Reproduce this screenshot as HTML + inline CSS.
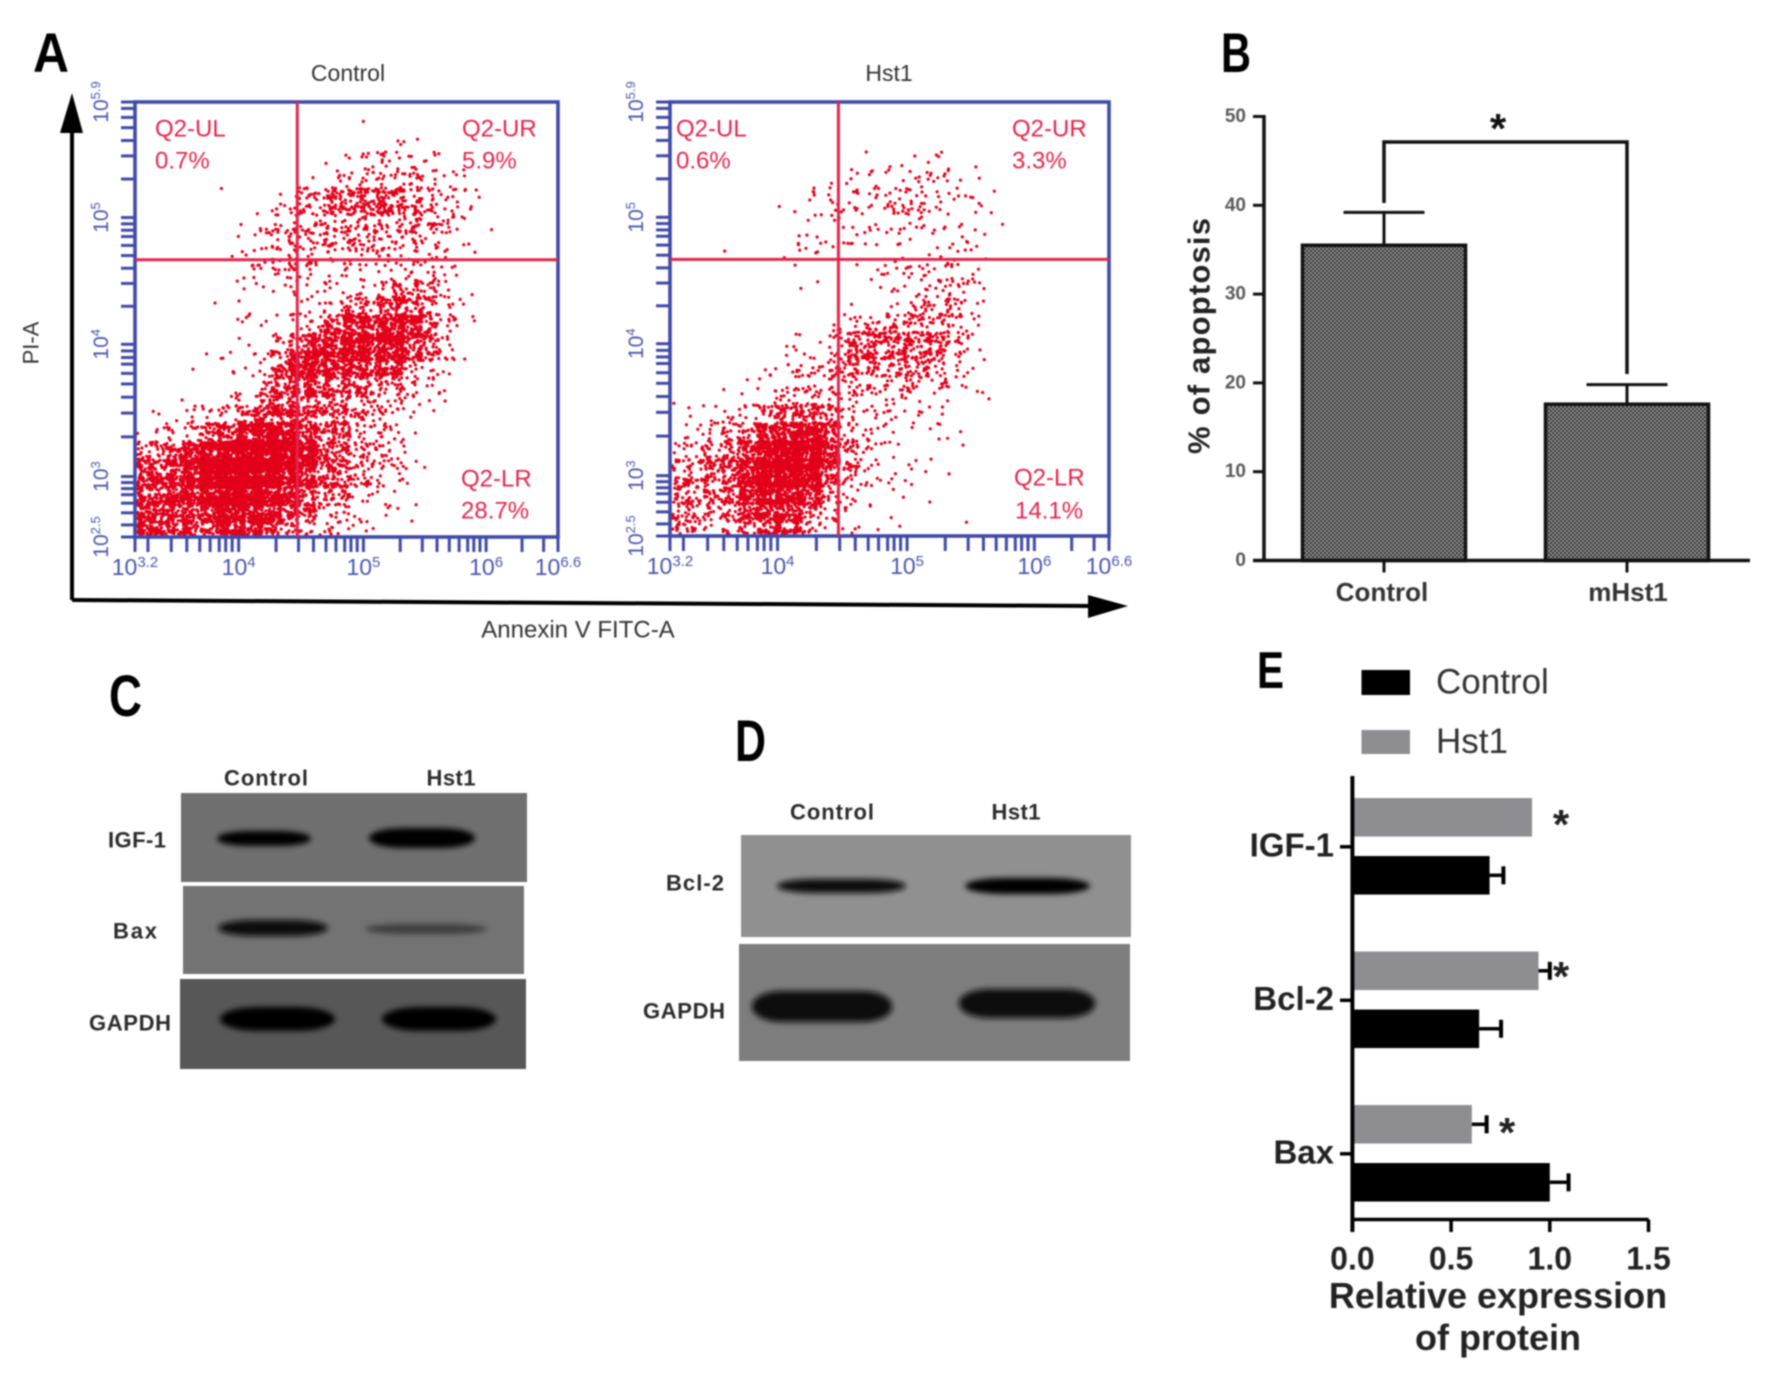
<!DOCTYPE html>
<html lang="en">
<head>
<meta charset="utf-8">
<title>Flow cytometry, apoptosis and western blot figure</title>
<style>
html,body{margin:0;padding:0;background:#fff;}
#figure{display:block;width:1772px;height:1388px;filter:blur(0.7px);font-family:"Liberation Sans",Arial,sans-serif;}
.flow-red{font-size:24px;fill:#e3244a;}
.wb{font-size:22px;font-weight:bold;fill:#2b2b2b;text-anchor:middle;dominant-baseline:central;}
.letter{font-weight:bold;fill:#000;}
</style>
</head>
<body>
<svg id="figure" xmlns="http://www.w3.org/2000/svg" width="1772" height="1388" viewBox="0 0 1772 1388">
<defs>
<pattern id="hatch" width="4" height="4" patternUnits="userSpaceOnUse">
<rect width="4" height="4" fill="#9a9a9a"/>
<rect width="2" height="2" fill="#2e2e2e"/>
<rect x="2" y="2" width="2" height="2" fill="#2e2e2e"/>
</pattern>
<filter id="band-blur" x="-20%" y="-60%" width="140%" height="220%"><feGaussianBlur stdDeviation="3"/></filter>
</defs>
<rect width="1772" height="1388" fill="#fff"/>

<!-- Panel letters -->
<text class="letter" x="33" y="72" font-size="56" textLength="36" lengthAdjust="spacingAndGlyphs">A</text>
<text class="letter" x="1221" y="72" font-size="56" textLength="30" lengthAdjust="spacingAndGlyphs">B</text>
<text class="letter" x="109" y="716" font-size="58" textLength="33" lengthAdjust="spacingAndGlyphs">C</text>
<text class="letter" x="735" y="761" font-size="58" textLength="31" lengthAdjust="spacingAndGlyphs">D</text>
<text class="letter" x="1257" y="688" font-size="52" textLength="27" lengthAdjust="spacingAndGlyphs">E</text>

<!-- Panel A shared axes -->
<g>
<line x1="72" y1="600" x2="72" y2="128" stroke="#000" stroke-width="4"/>
<polygon points="72,93 60,133 83,133" fill="#000"/>
<line x1="72" y1="600" x2="1092" y2="606" stroke="#000" stroke-width="4"/>
<polygon points="1128,606 1088,595 1088,618" fill="#000"/>
<text transform="translate(31,343) rotate(-90)" font-size="22" fill="#333" text-anchor="middle" dominant-baseline="central">PI-A</text>
<text x="578" y="630" font-size="24" fill="#333" text-anchor="middle" dominant-baseline="central">Annexin V FITC-A</text>
</g>
<g id="flow-control"></g>
<g id="flow-hst1"></g>

<!-- Panel B -->
<g id="chart-b"></g>

<!-- Panel C -->
<g>
<text class="wb" x="266" y="778" textLength="84">Control</text>
<text class="wb" x="451" y="778" textLength="49">Hst1</text>
<rect x="181" y="793" width="346" height="89" fill="#6f6f6f"/>
<rect x="183" y="886" width="341" height="88" fill="#737373"/>
<rect x="180" y="979" width="346" height="90" fill="#575757"/>
<g filter="url(#band-blur)">
<rect x="217" y="831" width="94" height="15" rx="30" ry="7.5" fill="#000"/>
<rect x="369" y="828" width="106" height="20" rx="34" ry="10" fill="#000"/>
<rect x="218" y="920" width="110" height="16" rx="36" ry="8" fill="#0c0c0c"/>
<rect x="365" y="924" width="122" height="10" rx="40" ry="5" fill="#3c3c3c"/>
<rect x="220" y="1007" width="115" height="24" rx="38" ry="12" fill="#000"/>
<rect x="382" y="1007" width="114" height="24" rx="38" ry="12" fill="#000"/>
</g>
<text class="wb" x="137" y="840" textLength="58">IGF-1</text>
<text class="wb" x="135" y="931" textLength="44">Bax</text>
<text class="wb" x="130" y="1023" textLength="82">GAPDH</text>
</g>

<!-- Panel D -->
<g>
<text class="wb" x="832" y="812" textLength="84">Control</text>
<text class="wb" x="1016" y="812" textLength="49">Hst1</text>
<rect x="741" y="835" width="390" height="102" fill="#909090"/>
<rect x="739" y="944" width="391" height="117" fill="#7d7d7d"/>
<g filter="url(#band-blur)">
<rect x="777" y="879" width="129" height="14" rx="40" ry="7" fill="#0e0e0e"/>
<rect x="965" y="878" width="125" height="16" rx="40" ry="8" fill="#050505"/>
<rect x="752" y="991" width="140" height="31" rx="30" ry="15" fill="#0a0a0a"/>
<rect x="959" y="989" width="136" height="29" rx="30" ry="14" fill="#0d0d0d"/>
</g>
<text class="wb" x="695" y="883" textLength="58">Bcl-2</text>
<text class="wb" x="684" y="1011" textLength="82">GAPDH</text>
</g>

<!-- Panel E -->
<g id="chart-e"></g>
</svg>

<script>
// ---------- Panel A data: event counts per grid cell, estimated by eye (24 rows top to bottom, 24 columns left to right) ----------
const controlDensity = [
[0,0,0,0,0,0,0,0,0,0,0,0,0,0,0,0,0,0,0,0,0,0,0,0],
[0,0,0,0,0,0,0,0,0,0,0,0,0,1,0,0,0,0,0,0,0,0,0,0],
[0,0,0,0,0,0,0,0,0,0,0,1,1,1,1,3,1,0,0,0,0,0,0,0],
[0,0,0,0,0,0,0,0,0,0,1,3,3,6,6,8,5,2,1,0,0,0,0,0],
[0,0,0,0,0,0,0,0,0,1,3,4,4,6,7,7,6,5,2,0,0,0,0,0],
[0,0,0,0,0,1,0,2,6,10,16,18,20,24,24,14,10,6,5,2,0,0,0,0],
[0,0,0,0,0,0,0,4,4,5,8,8,10,10,10,10,9,7,4,2,0,0,0,0],
[0,0,0,0,0,0,2,8,9,8,10,10,10,9,8,8,8,6,2,0,0,0,0,0],
[0,0,0,0,0,1,4,6,6,8,6,5,5,5,5,7,8,4,0,1,0,0,0,0],
[0,0,0,0,0,0,4,3,7,5,5,3,5,3,4,7,8,3,1,0,0,0,0,0],
[0,0,0,0,0,0,1,0,2,2,3,4,4,5,12,18,12,5,4,0,0,0,0,0],
[0,0,0,0,1,1,2,0,0,3,4,8,14,18,24,26,18,5,0,0,0,0,0,0],
[0,0,0,0,0,1,3,2,3,7,12,28,36,38,40,38,24,8,3,0,0,0,0,0],
[0,0,0,0,0,0,2,3,10,22,32,38,42,36,34,28,18,6,2,0,0,0,0,0],
[0,0,0,0,3,4,0,6,26,48,38,32,34,30,24,16,8,4,1,0,0,0,0,0],
[0,0,0,1,0,0,2,12,24,28,20,20,20,16,12,9,5,3,0,0,0,0,0,0],
[0,0,1,0,0,3,6,14,22,22,18,16,14,10,8,4,3,1,0,0,0,0,0,0],
[0,3,4,4,6,12,22,30,30,22,16,14,12,8,5,3,0,0,0,0,0,0,0,0],
[3,6,8,12,26,38,55,62,60,36,20,16,10,9,6,3,0,0,0,0,0,0,0,0],
[14,18,26,36,56,80,95,90,70,50,24,18,12,10,6,3,0,0,0,0,0,0,0,0],
[22,28,34,48,80,105,110,90,55,42,22,20,14,7,5,2,1,0,0,0,0,0,0,0],
[26,30,34,44,66,88,90,70,44,32,18,14,7,5,3,1,0,0,0,0,0,0,0,0],
[26,28,28,30,36,50,50,40,26,22,10,8,5,3,1,2,1,0,0,0,0,0,0,0],
[30,26,22,22,26,36,30,24,14,10,8,4,2,1,0,0,0,0,0,0,0,0,0,0]
];
const hst1Density = [
[0,0,0,0,0,0,0,0,0,0,0,0,0,0,0,0,0,0,0,0,0,0,0,0],
[0,0,0,0,0,0,0,0,0,0,0,0,0,0,0,0,0,0,0,0,0,0,0,0],
[0,0,0,0,0,0,0,0,0,0,0,0,0,0,0,0,0,0,0,0,0,0,0,0],
[0,0,0,0,0,0,0,0,0,0,1,2,3,4,4,2,2,0,0,0,0,0,0,0],
[0,0,0,0,0,0,0,0,0,2,4,3,3,4,5,3,2,1,0,0,0,0,0,0],
[0,0,0,0,0,0,0,4,4,5,6,6,10,8,3,3,3,1,0,0,0,0,0,0],
[0,0,0,0,0,0,1,2,3,2,1,2,5,5,4,2,1,1,0,0,0,0,0,0],
[0,0,0,0,0,0,1,3,3,3,3,3,3,2,1,2,4,0,0,0,0,0,0,0],
[0,0,1,0,0,0,2,3,1,2,0,1,1,0,2,4,4,0,0,0,0,0,0,0],
[0,0,0,0,0,0,1,1,0,1,0,4,6,5,5,7,3,0,0,0,0,0,0,0],
[0,0,0,0,0,0,1,0,0,0,0,3,3,3,7,8,4,0,0,0,0,0,0,0],
[0,0,0,0,0,0,0,0,0,1,0,0,5,8,8,12,4,0,0,0,0,0,0,0],
[0,0,0,0,0,0,1,0,0,6,10,12,14,12,12,10,4,0,0,0,0,0,0,0],
[0,0,0,0,0,0,3,2,0,10,28,16,24,18,20,6,3,0,0,0,0,0,0,0],
[0,0,0,0,0,1,3,5,6,14,16,12,10,12,10,6,5,0,0,0,0,0,0,0],
[0,0,0,0,1,3,5,8,6,8,7,7,10,9,8,4,2,0,0,0,0,0,0,0],
[1,0,1,0,3,7,10,12,10,8,6,5,5,4,2,2,0,1,0,0,0,0,0,0],
[1,2,3,6,10,15,20,24,18,8,4,5,3,3,2,3,0,0,0,0,0,0,0,0],
[2,6,9,12,18,36,50,55,40,14,6,3,3,0,2,1,0,0,0,0,0,0,0,0],
[4,8,12,18,36,60,70,70,52,14,5,3,2,0,0,1,0,0,0,0,0,0,0,0],
[10,12,16,24,46,72,75,55,30,10,5,3,2,3,2,0,0,0,0,0,0,0,0,0],
[16,14,16,22,40,55,55,38,16,8,4,3,1,2,1,0,0,0,0,0,0,0,0,0],
[10,14,10,14,26,40,40,22,8,4,1,1,1,0,0,1,0,0,0,0,0,0,0,0],
[12,8,5,8,18,24,26,10,3,3,1,1,1,0,0,0,0,0,0,0,0,0,0,0]
];
const controlGates = ["Q2-UL","0.7%","Q2-UR","5.9%","Q2-LR","28.7%"];
const hst1Gates = ["Q2-UL","0.6%","Q2-UR","3.3%","Q2-LR","14.1%"];
const logXMajors = ["3.2","4","5","6","6.6"];
const logYMajors = ["2.5","3","4","5","5.9"];
const logXMinors = [3.3,3.48,3.6,3.7,3.78,3.85,3.9,3.95,4.3,4.48,4.6,4.7,4.78,4.85,4.9,4.95,5.3,5.48,5.6,5.7,5.78,5.85,5.9,5.95,6.3,6.48];
const logYMinors = [2.6,2.7,2.78,2.85,2.9,2.95,3.3,3.48,3.6,3.7,3.78,3.85,3.9,3.95,4.3,4.48,4.6,4.7,4.78,4.85,4.9,4.95,5.3,5.48,5.6,5.7,5.78,5.85];
const gateLogX = [4.47, 4.47];
const gateLogY = [4.667, 4.667];

// ---------- Panel B data ----------
const apoptosisCategories = ["Control","mHst1"];
const apoptosisValues = [35.5,17.6];
const apoptosisErrors = [3.7,2.2];
const apoptosisTicks = [0,10,20,30,40,50];

// ---------- Panel E data ----------
const proteinCategories = ["IGF-1","Bcl-2","Bax"];
const hst1Expression = [0.91,0.943,0.605];
const hst1ExpressionError = [0,0.057,0.075];
const controlExpression = [0.695,0.642,1.0];
const controlExpressionError = [0.07,0.111,0.095];
const expressionTicks = [0,0.5,1.0,1.5];

const NS = 'http://www.w3.org/2000/svg';
function mk(parent, tag, attrs, text){
  const el = document.createElementNS(NS, tag);
  for (const k in attrs) el.setAttribute(k, attrs[k]);
  if (text !== undefined) el.textContent = text;
  parent.appendChild(el);
  return el;
}
function piecewise(knotsIn, knotsOut, v){
  for (let i = 0; i < knotsIn.length - 1; i++) {
    if (v <= knotsIn[i+1] || i === knotsIn.length - 2) {
      return knotsOut[i] + (v - knotsIn[i]) / (knotsIn[i+1] - knotsIn[i]) * (knotsOut[i+1] - knotsOut[i]);
    }
  }
}
// deterministic placement of a dot inside its grid cell (does not affect how many dots a cell has)
function cellOffset(a){
  const s = Math.sin(a * 12.9898) * 43758.5453;
  return s - Math.floor(s);
}
function reflectInto(v, lo, hi){
  if (v < lo) v = 2*lo - v;
  if (v > hi) v = 2*hi - v;
  return Math.min(hi, Math.max(lo, v));
}
// the grid was read on a compressed scale: dense cells overplot in the picture, so they draw extra dots
function dotsForCount(n){
  return Math.round(n * (1 + Math.min(1.4, n / 22)));
}
const BLUE = '#3f4aa8';
const LABEL_BLUE = '#4a55ad';

function drawFlow(root, o){
  const w = o.right - o.left, h = o.bottom - o.top;
  const xKnots = [3.2,4,5,6,6.6], yKnots = [2.5,3,4,5,5.9];
  const xFrac = [0,0.245,0.54,0.83,1], yFrac = [1,0.861,0.557,0.2656,0];
  const sx = v => o.left + piecewise(xKnots, xFrac, v) * w;
  const sy = v => o.top + piecewise(yKnots, yFrac, v) * h;

  // event dots drawn from the density grid
  const rows = o.density.length, cols = o.density[0].length;
  const dots = mk(root, 'g', {fill:'#e2001a'});
  
  
  o.density.forEach((row, r) => row.forEach((n, c) => {
    const total = dotsForCount(n);
    for (let i = 1; i <= total; i++) {
      const key = r*1000 + c*37 + i*3.17 + o.salt;
      const u = cellOffset(key), v = cellOffset(key + 51.3);
      const px = reflectInto(o.left + (c + 0.5 + (u - 0.5)*1.55) / cols * w, o.left + 2, o.right - 2);
      const py = reflectInto(o.top + (r + 0.5 + (v - 0.5)*1.55) / rows * h, o.top + 2, o.bottom - 2);
      const dot = mk(dots, 'circle', {cx:px.toFixed(1), cy:py.toFixed(1), r:1.6});
      
      
    }
  }));

  // frame
  const frame = mk(root, 'rect', {x:o.left, y:o.top, width:w, height:h, fill:'none', stroke:BLUE, 'stroke-width':3.6});
  
  

  // ticks
  logXMajors.concat(logXMinors).forEach(t => {
    const line = mk(root, 'line', {x1:sx(+t), x2:sx(+t), y1:o.bottom, y2:o.bottom+15, stroke:BLUE, 'stroke-width':3});
    
    
  });
  logYMajors.concat(logYMinors).forEach(t => {
    const line = mk(root, 'line', {x1:o.left-14, x2:o.left, y1:sy(+t), y2:sy(+t), stroke:BLUE, 'stroke-width':3});
    
    
  });
  logXMajors.forEach(t => {
    const lbl = mk(root, 'text', {x:sx(+t), y:o.bottom+38, 'text-anchor':'middle', 'font-size':23, fill:LABEL_BLUE}, '10');
    
    
    mk(lbl, 'tspan', {dy:-8, 'font-size':15}, t);
  });
  logYMajors.forEach(t => {
    const lbl = mk(root, 'text', {transform:'translate('+(o.left-27)+','+sy(+t)+') rotate(-90)', 'text-anchor':'middle', 'font-size':21, fill:LABEL_BLUE}, '10');
    
    
    mk(lbl, 'tspan', {dy:-8, 'font-size':13}, t);
  });

  // gates
  const vGate = mk(root, 'line', {x1:sx(o.gateX), x2:sx(o.gateX), y1:o.top, y2:o.bottom, stroke:'#e3244a', 'stroke-width':3});
  
  
  const hGate = mk(root, 'line', {x1:o.left, x2:o.right, y1:sy(o.gateY), y2:sy(o.gateY), stroke:'#e3244a', 'stroke-width':3});
  
  

  // title and gate labels
  const title = mk(root, 'text', {x:o.titleX, y:73, 'text-anchor':'middle', 'dominant-baseline':'central', 'font-size':23, fill:'#333'}, o.title);
  
  
  o.gates.forEach((g, i) => {
    const t = mk(root, 'text', {'class':'flow-red', x:o.gateLabelX[i], y:o.gateLabelY[i], 'dominant-baseline':'central'}, g);
    
    
  });
}
drawFlow(document.getElementById('flow-control'), {
  left:135, right:558, top:102, bottom:537, density:controlDensity, gates:controlGates, salt:0.37,
  gateX:gateLogX[0], gateY:gateLogY[0], title:'Control', titleX:348,
  gateLabelX:[155,155,462,462,461,461], gateLabelY:[129,161,129,161,479,511]
});
drawFlow(document.getElementById('flow-hst1'), {
  left:670, right:1109, top:102, bottom:536, density:hst1Density, gates:hst1Gates, salt:7.91,
  gateX:gateLogX[1], gateY:gateLogY[1], title:'Hst1', titleX:889,
  gateLabelX:[676,676,1012,1012,1014,1015], gateLabelY:[129,161,129,161,478,511]
});

// ---------- Panel B ----------
(function(){
  const g = document.getElementById('chart-b');
  const yB = v => 560.5 - v * 8.88;
  const xB = i => 1384 + i * 243;
  const barW = 163;
  const stroke = '#111';
  apoptosisCategories.forEach((cat, i) => {
    const bar = mk(g, 'rect', {x:xB(i)-barW/2, y:yB(apoptosisValues[i]), width:barW, height:yB(0)-yB(apoptosisValues[i]), fill:'url(#hatch)', stroke:stroke, 'stroke-width':3.5});
    
    
    const top = apoptosisValues[i] + apoptosisErrors[i];
    const stem = mk(g, 'line', {x1:xB(i), x2:xB(i), y1:yB(apoptosisValues[i]), y2:yB(top), stroke:stroke, 'stroke-width':3});
    
    
    const cap = mk(g, 'line', {x1:xB(i)-40.5, x2:xB(i)+40.5, y1:yB(top), y2:yB(top), stroke:stroke, 'stroke-width':3});
    
    
    const tick = mk(g, 'line', {x1:xB(i), x2:xB(i), y1:yB(0), y2:yB(0)+12, stroke:stroke, 'stroke-width':3});
    
    
    const label = mk(g, 'text', {x:xB(i)-2+i*3, y:592, 'text-anchor':'middle', 'dominant-baseline':'central', 'font-size':26, 'font-weight':'bold', fill:'#333'}, cat);
    
    
  });
  apoptosisTicks.forEach(t => {
    const tick = mk(g, 'line', {x1:1253, x2:1264, y1:yB(t), y2:yB(t), stroke:stroke, 'stroke-width':3});
    
    
    const label = mk(g, 'text', {x:1246, y:yB(t), 'text-anchor':'end', 'dominant-baseline':'central', 'font-size':19, 'font-weight':'bold', fill:'#5a5a5a'}, String(t));
    
    
  });
  const yAxis = mk(g, 'line', {x1:1264, x2:1264, y1:yB(50)-1.5, y2:yB(0), stroke:stroke, 'stroke-width':3.5});
  
  
  const xAxis = mk(g, 'line', {x1:1253, x2:1750, y1:yB(0), y2:yB(0), stroke:stroke, 'stroke-width':3.5});
  
  
  const bracket = mk(g, 'path', {d:'M'+xB(0)+' 203V142H'+xB(1)+'V374', fill:'none', stroke:stroke, 'stroke-width':3.5});
  
  
  const star = mk(g, 'text', {x:1498, y:143, 'text-anchor':'middle', 'font-size':42, 'font-weight':'bold', fill:'#111'}, '*');
  
  
  const yTitle = mk(g, 'text', {transform:'translate(1199,336) rotate(-90)', 'text-anchor':'middle', 'dominant-baseline':'central', 'font-size':31, 'font-weight':'bold', fill:'#222', textLength:236}, '% of apoptosis');
  
  
})();

// ---------- Panel E ----------
(function(){
  const g = document.getElementById('chart-e');
  const xE = v => 1352.4 + v * 197.4;
  const yCat = i => 846.8 + i * 153.5;
  const barH = 38.5;
  function hBar(value, err, cy, fill, name){
    const bar = mk(g, 'rect', {x:xE(0), y:cy-barH/2, width:xE(value)-xE(0), height:barH, fill:fill});
    
    
    if (err > 0) {
      const stem = mk(g, 'line', {x1:xE(value), x2:xE(value+err), y1:cy, y2:cy, stroke:'#000', 'stroke-width':3.5});
      
      
      const cap = mk(g, 'line', {x1:xE(value+err), x2:xE(value+err), y1:cy-9, y2:cy+9, stroke:'#000', 'stroke-width':4});
      
      
    }
  }
  proteinCategories.forEach((cat, i) => {
    hBar(hst1Expression[i], hst1ExpressionError[i], yCat(i)-29.5, '#8e8d92', 'hst1-bar');
    hBar(controlExpression[i], controlExpressionError[i], yCat(i)+28.5, '#000', 'control-bar');
    const tick = mk(g, 'line', {x1:1340, x2:1352, y1:yCat(i), y2:yCat(i), stroke:'#000', 'stroke-width':3.5});
    
    
    const label = mk(g, 'text', {x:1334, y:yCat(i)-2, 'text-anchor':'end', 'dominant-baseline':'central', 'font-size':33, 'font-weight':'bold', fill:'#222'}, cat);
    
    
  });
  expressionTicks.forEach(t => {
    const tick = mk(g, 'line', {x1:xE(t), x2:xE(t), y1:1219.5, y2:1232, stroke:'#000', 'stroke-width':3.5});
    
    
    const label = mk(g, 'text', {x:xE(t), y:1258.5, 'text-anchor':'middle', 'dominant-baseline':'central', 'font-size':32, 'font-weight':'bold', fill:'#222'}, t.toFixed(1));
    
    
  });
  const yAxis = mk(g, 'line', {x1:xE(0), x2:xE(0), y1:776, y2:1232, stroke:'#000', 'stroke-width':4});
  
  
  const xAxis = mk(g, 'line', {x1:xE(0), x2:xE(1.5), y1:1219.5, y2:1219.5, stroke:'#000', 'stroke-width':3.5});
  
  

  const star1 = mk(g, 'text', {x:1561, y:839, 'text-anchor':'middle', 'font-size':42, 'font-weight':'bold', fill:'#222'}, '*');
  
  
  const star2 = mk(g, 'text', {x:1561, y:991, 'text-anchor':'middle', 'font-size':42, 'font-weight':'bold', fill:'#222'}, '*');
  
  
  const star3 = mk(g, 'text', {x:1507, y:1147, 'text-anchor':'middle', 'font-size':42, 'font-weight':'bold', fill:'#222'}, '*');
  
  

  const t1 = mk(g, 'text', {x:1498, y:1295.5, 'text-anchor':'middle', 'dominant-baseline':'central', 'font-size':36, 'font-weight':'bold', fill:'#222'}, 'Relative expression');
  
  
  const t2 = mk(g, 'text', {x:1498, y:1337.5, 'text-anchor':'middle', 'dominant-baseline':'central', 'font-size':36, 'font-weight':'bold', fill:'#222'}, 'of protein');
  
  

  const sw1 = mk(g, 'rect', {x:1361.5, y:670, width:48.5, height:25, fill:'#000'});
  
  
  const lg1 = mk(g, 'text', {x:1436, y:682, 'dominant-baseline':'central', 'font-size':35, fill:'#333'}, 'Control');
  
  
  const sw2 = mk(g, 'rect', {x:1361.5, y:730, width:48.5, height:24, fill:'#8e8d92'});
  
  
  const lg2 = mk(g, 'text', {x:1436, y:741.5, 'dominant-baseline':'central', 'font-size':35, fill:'#333'}, 'Hst1');
  
  
})();
</script>
</body>
</html>
